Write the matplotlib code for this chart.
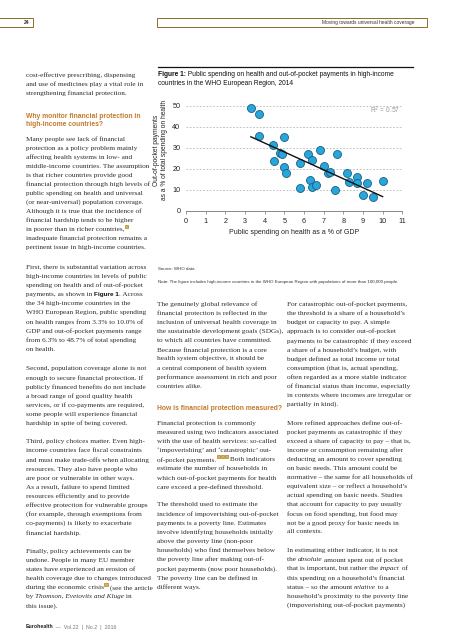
import re
import matplotlib.pyplot as plt
from matplotlib.patches import Rectangle
import numpy as np

# scatter data
pub_spend = [3.3, 3.7, 3.7, 4.4, 5.0, 6.8, 4.8, 4.9, 4.5, 5.0, 5.1, 5.8, 5.8, 6.2, 6.4,
             6.3, 6.4, 6.6, 7.0, 7.2, 7.3, 7.6, 7.7, 8.2, 8.3, 8.7, 8.7, 9.2, 9.0, 9.5, 10.0]
oop_share = [48.7, 46.0, 35.6, 31.4, 35.2, 29.0, 27.3, 26.8, 23.7, 21.0, 17.8, 22.7, 10.8, 27.0, 24.1,
             14.5, 11.4, 12.2, 21.4, 17.8, 18.6, 9.9, 27.1, 17.9, 13.8, 16.2, 13.3, 13.3, 7.6, 6.3, 14.1]
x_ticks = list(range(0, 12))
y_ticks = [0, 10, 20, 30, 40, 50]
r2_label = 'R$^2$ = 0.57'

# page text ( *italic*  **bold sans**  # = reference marker )
left_top = ["cost-effective prescribing, dispensing",
            "and use of medicines play a vital role in",
            "strengthening financial protection."]
left_head = ["Why monitor financial protection in", "high-income countries?"]
left_p1 = ["Many people see lack of financial",
           "protection as a policy problem mainly",
           "affecting health systems in low- and",
           "middle-income countries. The assumption",
           "is that richer countries provide good",
           "financial protection through high levels of",
           "public spending on health and universal",
           "(or near-universal) population coverage.",
           "Although it is true that the incidence of",
           "financial hardship tends to be higher",
           "in poorer than in richer countries,#",
           "inadequate financial protection remains a",
           "pertinent issue in high-income countries."]
left_p2 = ["First, there is substantial variation across",
           "high-income countries in levels of public",
           "spending on health and of out-of-pocket",
           "payments, as shown in **Figure 1**. Across",
           "the 34 high-income countries in the",
           "WHO European Region, public spending",
           "on health ranges from 3.3% to 10.0% of",
           "GDP and out-of-pocket payments range",
           "from 6.3% to 48.7% of total spending",
           "on health."]
left_p3 = ["Second, population coverage alone is not",
           "enough to secure financial protection. If",
           "publicly financed benefits do not include",
           "a broad range of good quality health",
           "services, or if co-payments are required,",
           "some people will experience financial",
           "hardship in spite of being covered."]
left_p4 = ["Third, policy choices matter. Even high-",
           "income countries face fiscal constraints",
           "and must make trade-offs when allocating",
           "resources. They also have people who",
           "are poor or vulnerable in other ways.",
           "As a result, failure to spend limited",
           "resources efficiently and to provide",
           "effective protection for vulnerable groups",
           "(for example, through exemptions from",
           "co-payments) is likely to exacerbate",
           "financial hardship."]
left_p5 = ["Finally, policy achievements can be",
           "undone. People in many EU member",
           "states have experienced an erosion of",
           "health coverage due to changes introduced",
           "during the economic crisis# (see the article",
           "by *Thomson, Evetovits and Kluge* in",
           "this issue)."]
mid_p1 = ["The genuinely global relevance of",
          "financial protection is reflected in the",
          "inclusion of universal health coverage in",
          "the sustainable development goals (SDGs),",
          "to which all countries have committed.",
          "Because financial protection is a core",
          "health system objective, it should be",
          "a central component of health system",
          "performance assessment in rich and poor",
          "countries alike."]
mid_head = ["How is financial protection measured?"]
mid_p2 = ["Financial protection is commonly",
          "measured using two indicators associated",
          "with the use of health services: so-called",
          "\u2018impoverishing\u2019 and \u2018catastrophic\u2019 out-",
          "of-pocket payments.### Both indicators",
          "estimate the number of households in",
          "which out-of-pocket payments for health",
          "care exceed a pre-defined threshold."]
mid_p3 = ["The threshold used to estimate the",
          "incidence of impoverishing out-of-pocket",
          "payments is a poverty line. Estimates",
          "involve identifying households initially",
          "above the poverty line (non-poor",
          "households) who find themselves below",
          "the poverty line after making out-of-",
          "pocket payments (now poor households).",
          "The poverty line can be defined in",
          "different ways."]
right_p1 = ["For catastrophic out-of-pocket payments,",
            "the threshold is a share of a household\u2019s",
            "budget or capacity to pay. A simple",
            "approach is to consider out-of-pocket",
            "payments to be catastrophic if they exceed",
            "a share of a household\u2019s budget, with",
            "budget defined as total income or total",
            "consumption (that is, actual spending,",
            "often regarded as a more stable indicator",
            "of financial status than income, especially",
            "in contexts where incomes are irregular or",
            "partially in kind)."]
right_p2 = ["More refined approaches define out-of-",
            "pocket payments as catastrophic if they",
            "exceed a share of capacity to pay \u2013 that is,",
            "income or consumption remaining after",
            "deducting an amount to cover spending",
            "on basic needs. This amount could be",
            "normative \u2013 the same for all households of",
            "equivalent size \u2013 or reflect a household\u2019s",
            "actual spending on basic needs. Studies",
            "that account for capacity to pay usually",
            "focus on food spending, but food may",
            "not be a good proxy for basic needs in",
            "all contexts."]
right_p3 = ["In estimating either indicator, it is not",
            "the *absolute* amount spent out of pocket",
            "that is important, but rather the *impact* of",
            "this spending on a household\u2019s financial",
            "status \u2013 so the amount *relative* to a",
            "household\u2019s proximity to the poverty line",
            "(impoverishing out-of-pocket payments)"]

W, H = 453, 640
SERIF = ['Liberation Serif', 'DejaVu Serif']
SANS = ['Liberation Sans', 'DejaVu Sans']
TXT = '#2b2b2b'
ORANGE = '#c27a2c'
GOLD = '#8c6d2c'
LEAD = 9.1
BODY = 5.2

fig = plt.figure(figsize=(W / 100, H / 100), dpi=100)
page = fig.add_axes([0, 0, 1, 1])
page.set_xlim(0, W)
page.set_ylim(H, 0)
page.axis('off')
renderer = fig.canvas.get_renderer()


def draw_line(x, y, line, size=BODY):
    for part in re.split(r'(\*\*.*?\*\*|\*.*?\*|#)', line):
        if not part:
            continue
        if part == '#':
            page.add_patch(Rectangle((x + 0.4, y - 4.8), 3.1, 3.1, facecolor='#e2b04a',
                                     edgecolor='#9a6b1e', lw=0.4))
            x += 3.8
            continue
        kw = dict(family=SERIF, size=size, color=TXT)
        if part.startswith('**'):
            part = part[2:-2]
            kw = dict(family=SANS, size=size - 0.6, color='#111', weight='bold')
        elif part.startswith('*'):
            part = part[1:-1]
            kw['style'] = 'italic'
        t = page.text(x, y, part, va='center', ha='left', **kw)
        x += t.get_window_extent(renderer).width


def draw_block(x, y0, lines, lead=LEAD):
    for i, line in enumerate(lines):
        draw_line(x, y0 + i * lead, line)


def draw_head(x, y0, lines, lead=7.8):
    for i, line in enumerate(lines):
        page.text(x, y0 + i * lead, line, family=SANS, size=4.9, weight='bold',
                  color=ORANGE, va='center', ha='left')


# left column
LX = 26
draw_block(LX, 75, left_top)
draw_head(LX, 116.7, left_head)
draw_block(LX, 139, left_p1, 9.05)
draw_block(LX, 267.3, left_p2)
draw_block(LX, 368.7, left_p3)
draw_block(LX, 441.7, left_p4)
draw_block(LX, 551.3, left_p5)

# middle column
MX = 157.3
draw_block(MX, 304.3, mid_p1)
draw_head(MX, 408.3, mid_head)
draw_block(MX, 423.3, mid_p2)
draw_block(MX, 505, mid_p3)

# right column
RX = 287
draw_block(RX, 304.3, right_p1)
draw_block(RX, 422.7, right_p2)
draw_block(RX, 550.7, right_p3)

# running header
page.add_patch(Rectangle((-1, 18), 34, 9, fill=False, edgecolor=GOLD, lw=0.7))
page.text(29, 22.6, '24', family=SANS, size=3.6, weight='bold', color='#333',
          ha='right', va='center')
page.add_patch(Rectangle((157, 18), 270, 9, fill=False, edgecolor=GOLD, lw=0.7))
page.text(414, 22.6, 'Moving towards universal health coverage', family=SANS, size=3.5,
          color='#333', ha='right', va='center')

# footer
t = page.text(LX, 627, 'Eurohealth', family=SANS, size=3.8, weight='bold', color='#222',
              va='center')
fx = LX + t.get_window_extent(renderer).width
page.text(fx, 627, ' \u2014  Vol.22  |  No.2  |  2016', family=SANS, size=3.8,
          color='#777', va='center')

# figure caption
page.plot([158, 413], [67.3, 67.3], color='#111', lw=0.9)
t = page.text(158, 75, 'Figure 1:', family=SANS, size=4.8, weight='bold', color='#111',
              va='center')
cx = 158 + t.get_window_extent(renderer).width
page.text(cx, 75, ' Public spending on health and out-of-pocket payments in high-income',
          family=SANS, size=4.8, color='#111', va='center')
page.text(158, 83.3, 'countries in the WHO European Region, 2014', family=SANS, size=4.8,
          color='#111', va='center')
page.text(158, 269.3, 'Source: WHO data.', family=SANS, size=3.2, color='#333', va='center')
page.text(158, 281.7, 'Note: The figure includes high-income countries in the WHO European '
          'Region with populations of more than 100,000 people.', family=SANS, size=3.2,
          color='#333', va='center')

# chart
x0, x1 = 186, 402.3
ybot, ytop = 210.7, 105.7
ax = fig.add_axes([x0 / W, 1 - ybot / H, (x1 - x0) / W, (ybot - ytop) / H])
ax.set_xlim(0, 11)
ax.set_ylim(0, 50)
for v in y_ticks[1:]:
    ax.axhline(v, color='#b5b5b5', lw=0.6, ls=(0, (2, 2)), zorder=0)
ax.scatter(pub_spend, oop_share, s=33, color='#27a6dc', edgecolors='#1b5d80', linewidths=0.6,
           zorder=3, clip_on=False)
coef = np.polyfit(pub_spend, oop_share, 1)
xs = np.array([min(pub_spend), max(pub_spend)])
ax.plot(xs, np.polyval(coef, xs), color='#111', lw=1.0, zorder=4)
ax.text(10.9, 47.6, r2_label, family=SANS, size=4.8, color='#999', ha='right', va='center')
for s in ['left', 'top', 'right']:
    ax.spines[s].set_visible(False)
ax.spines['bottom'].set_color('#888')
ax.spines['bottom'].set_linewidth(0.7)
ax.set_xticks(x_ticks)
ax.set_yticks(y_ticks)
ax.tick_params(axis='x', length=2.5, width=0.6, color='#888', labelsize=5.2, pad=2.5,
               labelcolor='#222')
ax.tick_params(axis='y', length=0, labelsize=5.2, pad=4, labelcolor='#222')
for lab in ax.get_xticklabels() + ax.get_yticklabels():
    lab.set_family(SANS)
ax.set_xlabel('Public spending on health as a % of GDP', family=SANS, size=5.0, color='#222',
              labelpad=3)
page.text(160.5, 150, 'Out-of-pocket payments\nas a % of total spending on health',
          family=SANS, size=4.8, color='#222', rotation=90, ha='center', va='center',
          linespacing=1.15, multialignment='center')
ax.patch.set_alpha(0)

fig.savefig('out.png', dpi=100)
